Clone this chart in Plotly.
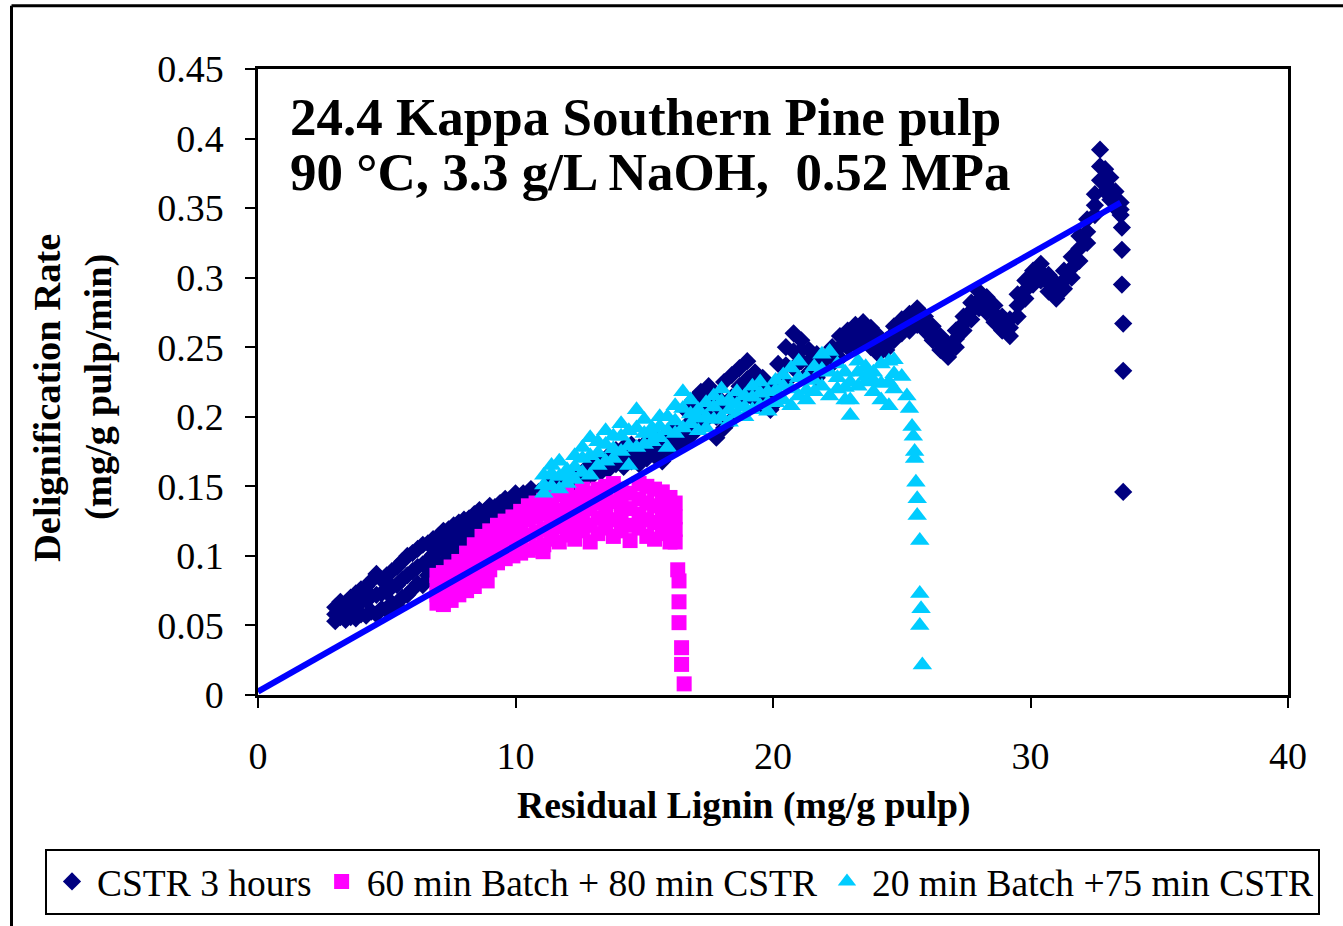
import plotly.graph_objects as go

# ---------------- data ----------------
# CSTR 3 hours (navy diamonds): band lower / middle / upper values at each x, then the final drop
cstr_x = [3.0, 3.2, 3.4, 3.6, 3.8, 4.0, 4.2, 4.4, 4.6, 4.8, 5.0, 5.2, 5.4, 5.6, 5.8, 6.0, 6.2, 6.4,
          6.6, 6.8, 7.0, 7.2, 7.4, 7.6, 7.8, 8.0, 8.2, 8.4, 8.6, 8.8, 9.0, 9.2, 9.4, 9.6, 9.8, 10.0,
          10.3, 10.6, 10.9, 11.2, 11.5, 11.8, 12.1, 12.4, 12.7, 13.0, 13.3, 13.6, 13.9, 14.2, 14.5,
          14.8, 15.1, 15.4, 15.7, 16.0, 16.3, 16.6, 16.9, 17.2, 17.5, 17.8, 18.1, 18.4, 18.7, 19.0,
          19.3, 19.6, 19.9, 20.2, 20.5, 20.8, 21.1, 21.4, 21.7, 22.0, 22.3, 22.6, 22.9, 23.2, 23.5,
          23.8, 24.1, 24.4, 24.7, 25.0, 25.3, 25.6, 25.9, 26.2, 26.5, 26.8, 27.1, 27.4, 27.7, 28.0,
          28.3, 28.6, 28.9, 29.2, 29.5, 29.8, 30.1, 30.4, 30.7, 31.0, 31.3, 31.6, 31.9, 32.2, 32.5,
          32.7, 32.9, 33.1, 33.3, 33.5]
cstr_lo = [0.053, 0.056, 0.054, 0.056, 0.055, 0.058, 0.057, 0.060, 0.058, 0.062, 0.061, 0.066,
           0.064, 0.070, 0.072, 0.076, 0.080, 0.079, 0.086, 0.090, 0.094, 0.093, 0.099, 0.102,
           0.104, 0.108, 0.107, 0.112, 0.111, 0.116, 0.119, 0.118, 0.123, 0.125, 0.127, 0.129,
           0.134, 0.138, 0.140, 0.142, 0.146, 0.145, 0.150, 0.152, 0.155, 0.158, 0.160, 0.162,
           0.166, 0.164, 0.168, 0.166, 0.170, 0.172, 0.168, 0.175, 0.178, 0.182, 0.188, 0.195,
           0.200, 0.185, 0.192, 0.198, 0.210, 0.215, 0.212, 0.208, 0.205, 0.212, 0.225, 0.235,
           0.240, 0.232, 0.228, 0.235, 0.238, 0.242, 0.250, 0.252, 0.255, 0.250, 0.245, 0.248,
           0.255, 0.260, 0.262, 0.266, 0.262, 0.255, 0.248, 0.243, 0.250, 0.262, 0.270, 0.278,
           0.275, 0.268, 0.262, 0.258, 0.272, 0.285, 0.295, 0.298, 0.290, 0.285, 0.292, 0.300,
           0.312, 0.325, 0.345, 0.370, 0.362, 0.356, 0.350, 0.345]
cstr_mid = [0.058, 0.062, 0.061, 0.064, 0.064, 0.067, 0.068, 0.071, 0.072, 0.073, 0.074, 0.078,
            0.079, 0.083, 0.086, 0.089, 0.092, 0.094, 0.097, 0.101, 0.104, 0.106, 0.109, 0.113,
            0.114, 0.117, 0.118, 0.121, 0.123, 0.124, 0.128, 0.127, 0.131, 0.133, 0.134, 0.137,
            0.140, 0.142, 0.144, 0.147, 0.149, 0.151, 0.153, 0.156, 0.158, 0.161, 0.166, 0.167,
            0.170, 0.172, 0.174, 0.173, 0.177, 0.180, 0.177, 0.183, 0.186, 0.193, 0.200, 0.206,
            0.211, 0.200, 0.208, 0.214, 0.222, 0.227, 0.221, 0.218, 0.214, 0.225, 0.237, 0.247,
            0.248, 0.240, 0.236, 0.239, 0.244, 0.250, 0.256, 0.259, 0.262, 0.257, 0.251, 0.252,
            0.260, 0.265, 0.268, 0.272, 0.267, 0.260, 0.253, 0.247, 0.256, 0.267, 0.276, 0.284,
            0.280, 0.274, 0.267, 0.264, 0.280, 0.291, 0.300, 0.304, 0.296, 0.290, 0.298, 0.307,
            0.321, 0.333, 0.352, 0.380, 0.370, 0.364, 0.356, 0.349]
cstr_hi = [0.063, 0.067, 0.066, 0.070, 0.073, 0.076, 0.078, 0.082, 0.087, 0.083, 0.086, 0.089,
           0.092, 0.096, 0.100, 0.102, 0.105, 0.108, 0.109, 0.112, 0.114, 0.118, 0.119, 0.122,
           0.124, 0.126, 0.127, 0.130, 0.133, 0.132, 0.136, 0.135, 0.138, 0.141, 0.140, 0.145,
           0.145, 0.148, 0.146, 0.150, 0.153, 0.156, 0.156, 0.158, 0.162, 0.166, 0.170, 0.172,
           0.176, 0.178, 0.180, 0.178, 0.182, 0.186, 0.184, 0.190, 0.192, 0.205, 0.212, 0.218,
           0.222, 0.215, 0.225, 0.230, 0.235, 0.240, 0.232, 0.228, 0.222, 0.238, 0.250, 0.260,
           0.255, 0.248, 0.245, 0.242, 0.250, 0.258, 0.262, 0.266, 0.268, 0.264, 0.258, 0.255,
           0.265, 0.270, 0.274, 0.278, 0.272, 0.265, 0.258, 0.252, 0.262, 0.272, 0.282, 0.290,
           0.286, 0.280, 0.272, 0.270, 0.288, 0.298, 0.305, 0.310, 0.302, 0.296, 0.305, 0.315,
           0.330, 0.342, 0.360, 0.392, 0.378, 0.372, 0.362, 0.354]
cstr_tail_x = [33.55, 33.55, 33.55, 33.6, 33.6, 33.6]
cstr_tail_y = [0.336, 0.320, 0.295, 0.267, 0.233, 0.146]

# 60 min Batch + 80 min CSTR (magenta squares): four rows across the band, then the drop
b60_x = [6.95, 7.2, 7.5, 7.8, 8.1, 8.4, 8.7, 9.0, 9.3, 9.6, 9.9, 10.2, 10.5, 10.8, 11.1, 11.4,
         11.7, 12.0, 12.3, 12.6, 12.9, 13.2, 13.5, 13.8, 14.1, 14.45, 14.8, 15.1, 15.4, 15.7,
         16.0, 16.2]
b60_r1 = [0.066, 0.065, 0.068, 0.072, 0.075, 0.078, 0.085, 0.090, 0.095, 0.098, 0.100, 0.102,
          0.104, 0.106, 0.108, 0.112, 0.110, 0.115, 0.112, 0.118, 0.110, 0.116, 0.120, 0.114,
          0.118, 0.111, 0.120, 0.114, 0.112, 0.116, 0.110, 0.110]
b60_r2 = [0.072, 0.072, 0.076, 0.080, 0.084, 0.088, 0.094, 0.099, 0.104, 0.107, 0.110, 0.112,
          0.115, 0.117, 0.119, 0.122, 0.121, 0.125, 0.122, 0.128, 0.122, 0.127, 0.130, 0.126,
          0.128, 0.122, 0.130, 0.126, 0.124, 0.126, 0.120, 0.119]
b60_r3 = [0.079, 0.080, 0.084, 0.088, 0.093, 0.098, 0.104, 0.108, 0.113, 0.116, 0.119, 0.122,
          0.126, 0.128, 0.130, 0.132, 0.133, 0.136, 0.132, 0.138, 0.134, 0.138, 0.140, 0.139,
          0.138, 0.134, 0.141, 0.138, 0.136, 0.136, 0.131, 0.128]
b60_r4 = [0.086, 0.088, 0.092, 0.096, 0.102, 0.108, 0.114, 0.118, 0.122, 0.125, 0.128, 0.132,
          0.136, 0.138, 0.140, 0.142, 0.144, 0.146, 0.142, 0.148, 0.145, 0.148, 0.150, 0.152,
          0.148, 0.145, 0.152, 0.150, 0.148, 0.146, 0.142, 0.138]
b60_extra_x = [8.9, 11.07, 16.3, 16.35, 16.35, 16.35, 16.45, 16.45, 16.55]
b60_extra_y = [0.082, 0.103, 0.090, 0.082, 0.067, 0.052, 0.034, 0.022, 0.008]

# 20 min Batch +75 min CSTR (cyan triangles)
b20_x = [11.1, 11.4, 11.7, 12.0, 12.3, 12.6, 12.9, 13.2, 13.5, 13.8, 14.1, 14.4, 14.7, 15.0,
         15.3, 15.6, 15.9, 16.2, 16.5, 16.8, 17.1, 17.4, 17.7, 18.0, 18.3, 18.6, 18.9, 19.2,
         19.5, 19.8, 20.1, 20.4, 20.7, 21.0, 21.3, 21.6, 21.9, 22.2, 22.5, 22.8, 23.0, 23.3,
         23.6, 23.9, 24.2, 24.5, 24.7]
b20_lo = [0.145, 0.150, 0.148, 0.152, 0.155, 0.160, 0.158, 0.165, 0.168, 0.170, 0.175, 0.165,
          0.178, 0.180, 0.182, 0.185, 0.178, 0.188, 0.192, 0.195, 0.190, 0.192, 0.198, 0.200,
          0.196, 0.202, 0.200, 0.205, 0.208, 0.204, 0.210, 0.212, 0.208, 0.215, 0.212, 0.218,
          0.222, 0.215, 0.220, 0.212, 0.201, 0.222, 0.225, 0.218, 0.212, 0.208, 0.220]
b20_mid = [0.151, 0.159, 0.157, 0.158, 0.164, 0.170, 0.172, 0.174, 0.180, 0.177, 0.186, 0.179,
           0.192, 0.188, 0.188, 0.193, 0.190, 0.197, 0.206, 0.202, 0.199, 0.200, 0.207, 0.211,
           0.205, 0.209, 0.207, 0.214, 0.217, 0.210, 0.219, 0.222, 0.220, 0.228, 0.219, 0.226,
           0.234, 0.232, 0.228, 0.221, 0.212, 0.232, 0.229, 0.226, 0.224, 0.225, 0.231]
b20_hi = [0.158, 0.165, 0.168, 0.162, 0.172, 0.178, 0.185, 0.182, 0.190, 0.186, 0.195, 0.190,
          0.205, 0.198, 0.192, 0.200, 0.200, 0.208, 0.218, 0.212, 0.205, 0.210, 0.215, 0.220,
          0.212, 0.218, 0.215, 0.222, 0.225, 0.218, 0.226, 0.230, 0.235, 0.240, 0.228, 0.236,
          0.245, 0.247, 0.238, 0.232, 0.225, 0.240, 0.236, 0.232, 0.238, 0.240, 0.241]
b20_tail_x = [25.0, 25.2, 25.3, 25.4, 25.45, 25.5, 25.5, 25.55, 25.6, 25.6, 25.7, 25.7, 25.75,
              25.7, 25.8]
b20_tail_y = [0.229, 0.215, 0.206, 0.193, 0.186, 0.175, 0.170, 0.153, 0.141, 0.129, 0.111,
              0.073, 0.062, 0.050, 0.0215]

# linear trend line
fit_x = [0.0, 33.5]
fit_y = [0.0025, 0.354]

x_ticks = [0, 10, 20, 30, 40]
y_ticks = [0, 0.05, 0.1, 0.15, 0.2, 0.25, 0.3, 0.35, 0.4, 0.45]
y_tick_text = ["0", "0.05", "0.1", "0.15", "0.2", "0.25", "0.3", "0.35", "0.4", "0.45"]

# ---------------- figure ----------------
FONT = "Liberation Serif"
W, H = 1343, 926
L, R, T, B = 258, 55, 69, 229
PW, PH = W - L - R, H - T - B


def px(xp):
    return (xp - L) / PW


def py(yp):
    return (H - B - yp) / PH


fig = go.Figure()
fig.add_trace(go.Scatter(
    x=cstr_x * 3 + cstr_tail_x, y=cstr_lo + cstr_mid + cstr_hi + cstr_tail_y,
    mode="markers", name="CSTR 3 hours",
    marker=dict(symbol="diamond", size=14, color="#000080", line=dict(width=0))))
fig.add_trace(go.Scatter(
    x=b60_x * 4 + b60_extra_x, y=b60_r1 + b60_r2 + b60_r3 + b60_r4 + b60_extra_y,
    mode="markers", name="60 min Batch + 80 min CSTR",
    marker=dict(symbol="square", size=15, color="#FF00FF", line=dict(width=0))))
fig.add_trace(go.Scatter(
    x=b20_x * 3 + b20_tail_x, y=b20_lo + b20_mid + b20_hi + b20_tail_y,
    mode="markers", name="20 min Batch +75 min CSTR",
    marker=dict(symbol="triangle-up", size=17, color="#00CCFF", line=dict(width=0))))
fig.add_trace(go.Scatter(
    x=fit_x, y=fit_y, mode="lines", showlegend=False, cliponaxis=False,
    line=dict(color="#0000FF", width=6)))

axis_common = dict(showgrid=False, zeroline=False, showline=True, mirror=True,
                   linecolor="black", linewidth=2.5, ticks="outside", ticklen=10,
                   tickwidth=2, tickcolor="black",
                   tickfont=dict(family=FONT, size=38, color="black"))
fig.update_xaxes(range=[0, 40], tickvals=x_ticks, ticklabelstandoff=16, **axis_common)
fig.update_yaxes(range=[0, 0.45], tickvals=y_ticks, ticktext=y_tick_text,
                 ticklabelstandoff=14, **axis_common)

ann = []
ann.append(dict(text="<b>24.4 Kappa Southern Pine pulp</b>", x=px(288), y=py(117),
                xanchor="left", yanchor="middle"))
ann.append(dict(text="<b>90 °C, 3.3 g/L NaOH,  0.52 MPa</b>", x=px(288), y=py(172),
                xanchor="left", yanchor="middle"))
for a in ann:
    a.update(xref="paper", yref="paper", showarrow=False,
             font=dict(family=FONT, size=53, color="black"))
ann.append(dict(text="<b>Residual Lignin (mg/g pulp)</b>", x=px(743.5), y=py(807.5),
                xref="paper", yref="paper", xanchor="center", yanchor="middle",
                showarrow=False, font=dict(family=FONT, size=37.7, color="black")))
ann.append(dict(text="<b>Delignification Rate</b>", x=px(47), y=py(399), textangle=-90,
                xref="paper", yref="paper", xanchor="center", yanchor="middle",
                showarrow=False, font=dict(family=FONT, size=38.5, color="black")))
ann.append(dict(text="<b>(mg/g pulp/min)</b>", x=px(99), y=py(388), textangle=-90,
                xref="paper", yref="paper", xanchor="center", yanchor="middle",
                showarrow=False, font=dict(family=FONT, size=38.5, color="black")))

shapes = [
    dict(type="line", xref="paper", yref="paper", x0=px(11.5), x1=px(11.5), y0=py(940), y1=py(5.5),
         line=dict(color="black", width=3)),
    dict(type="line", xref="paper", yref="paper", x0=px(11.5), x1=px(1360), y0=py(5.5), y1=py(5.5),
         line=dict(color="black", width=3)),
]

fig.update_layout(
    width=W, height=H, autosize=False,
    margin=dict(l=L, r=R, t=T, b=B),
    paper_bgcolor="white", plot_bgcolor="white",
    font=dict(family=FONT, size=37, color="black"),
    annotations=ann, shapes=shapes,
    legend=dict(orientation="h", x=px(45), y=py(851), xanchor="left", yanchor="top",
                bordercolor="black", borderwidth=2, bgcolor="white", itemwidth=40,
                font=dict(family=FONT, size=37.5, color="black")),
)

fig.write_html("out.html")
